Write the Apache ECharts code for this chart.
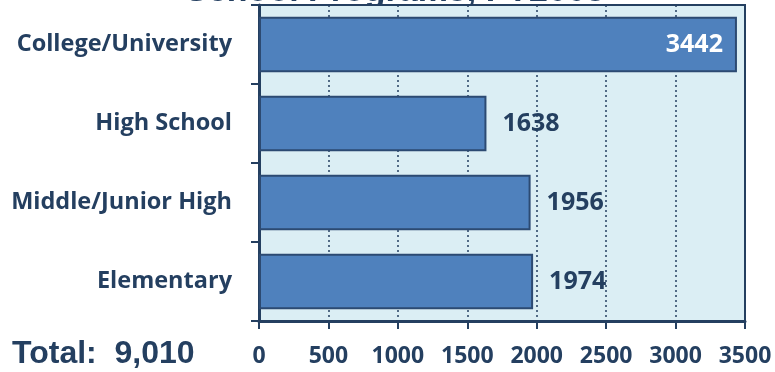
<!DOCTYPE html>
<html>
<head>
<meta charset="utf-8">
<script src="https://cdn.jsdelivr.net/npm/echarts@6/dist/echarts.min.js"></script>
<style>html,body{margin:0;padding:0;background:#fff;}#c{width:775px;height:372px;}</style>
</head>
<body>
<div id="c"></div>
<script>
var categories = ['Elementary', 'Middle/Junior High', 'High School', 'College/University'];
var values = [1974, 1956, 1638, 3442];
var xTicks = [0, 500, 1000, 1500, 2000, 2500, 3000, 3500];
var titleText = 'School Programs, FY2008';
var totalText = 'Total:  9,010';

var navy = '#243f60';
var chart = echarts.init(document.getElementById('c'));
var data = values.map(function (v, i) {
  var item = { value: v };
  if (v > 3000) {
    item.label = { position: 'insideRight', color: '#ffffff', distance: 14 };
  }
  return item;
});
chart.setOption({
  animation: false,
  backgroundColor: '#ffffff',
  grid: {
    left: 259, right: 30, top: 5, bottom: 51,
    show: true, backgroundColor: '#dbeef4', borderColor: navy, borderWidth: 2
  },
  graphic: [
    { type: 'text', z: -1, x: 395, y: 9, style: { text: titleText, textAlign: 'center', textVerticalAlign: 'bottom', font: 'bold 34px "Liberation Sans"', fill: navy } },
    { type: 'text', z: 100, x: 12, y: 354, style: { text: totalText, textAlign: 'left', textVerticalAlign: 'middle', font: 'bold 32px "Liberation Sans"', fill: navy } }
  ],
  xAxis: {
    type: 'value', min: xTicks[0], max: xTicks[xTicks.length - 1], interval: 500,
    axisLine: { show: true, lineStyle: { color: navy, width: 3 } },
    axisTick: { show: true, length: 8, lineStyle: { color: navy, width: 2 } },
    axisLabel: { margin: 24, color: navy, fontFamily: 'Open Sans', fontWeight: 'bold', fontSize: 23,
      formatter: function (v) { return String(v); } },
    splitLine: { show: true, lineStyle: { color: navy, width: 1.5, type: [2, 3] } }
  },
  yAxis: {
    type: 'category', data: categories,
    axisLine: { show: true, lineStyle: { color: navy, width: 3 } },
    axisTick: { show: true, length: 8, alignWithLabel: false, lineStyle: { color: navy, width: 2 } },
    axisLabel: { margin: 27, color: navy, fontFamily: 'Open Sans', fontWeight: 'bold', fontSize: 23.5 }
  },
  series: [{
    type: 'bar', data: data, barCategoryGap: '30%',
    itemStyle: { color: '#4f81bd', borderColor: '#2c4a72', borderWidth: 2 },
    label: { show: true, position: 'right', distance: 16, color: navy, fontFamily: 'Open Sans', fontWeight: 'bold', fontSize: 25 }
  }]
});
</script>
</body>
</html>
